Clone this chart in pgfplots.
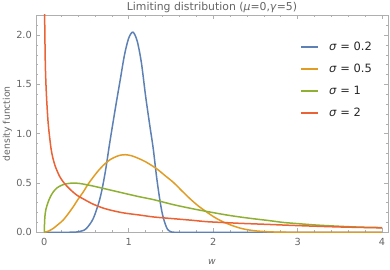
\documentclass[border=0pt]{standalone}
\usepackage{pgfplots}
\pgfplotsset{compat=1.18}
\usepackage{fontspec}
\setmainfont{DejaVu Sans}
\definecolor{mblue}{RGB}{94,129,181}
\definecolor{morange}{RGB}{225,156,36}
\definecolor{mgreen}{RGB}{143,176,50}
\definecolor{mred}{RGB}{235,98,53}
\definecolor{framegray}{RGB}{175,175,175}
\definecolor{labelgray}{RGB}{100,100,100}

\pgfplotstableread{
x y
0 0
0.2 0
0.3 0.0005
0.38 0.003
0.45 0.015
0.5 0.04
0.58 0.14
0.66 0.345
0.72 0.60
0.77 0.88
0.80 1.04
0.85 1.30
0.90 1.55
0.95 1.80
1.00 1.97
1.05 2.03
1.10 1.94
1.15 1.72
1.20 1.38
1.25 1.08
1.29 0.85
1.33 0.56
1.37 0.32
1.40 0.18
1.43 0.09
1.46 0.03
1.50 0.005
1.55 0
1.7 0
4 0
}\blue

\pgfplotstableread{
x y
0 0
0.05 0.012
0.107 0.04
0.165 0.08
0.225 0.125
0.285 0.19
0.344 0.26
0.40 0.335
0.462 0.41
0.52 0.49
0.58 0.56
0.64 0.625
0.70 0.68
0.76 0.725
0.818 0.755
0.89 0.78
0.96 0.787
1.03 0.777
1.1 0.755
1.2 0.715
1.33 0.645
1.43 0.575
1.53 0.505
1.63 0.42
1.726 0.34
1.82 0.27
1.924 0.205
2.02 0.15
2.12 0.105
2.22 0.07
2.32 0.042
2.42 0.024
2.52 0.013
2.65 0.005
2.8 0.0015
3.0 0
4.0 0
}\orange

\pgfplotstableread{
x y
0 0
0.003 0.09
0.008 0.165
0.02 0.235
0.047 0.31
0.075 0.365
0.107 0.41
0.15 0.45
0.2 0.475
0.25 0.49
0.3 0.497
0.36 0.499
0.42 0.495
0.5 0.483
0.6 0.465
0.7 0.445
0.8 0.425
0.9 0.405
1.0 0.385
1.13 0.36
1.3 0.33
1.53 0.28
1.75 0.24
1.92 0.212
2.15 0.177
2.32 0.155
2.5 0.135
2.65 0.12
2.83 0.10
3.0 0.088
3.23 0.073
3.45 0.063
3.62 0.056
3.8 0.051
4.0 0.048
}\green

\pgfplotstableread{
x y
0.002 2.5
0.005 2.15
0.012 1.72
0.02 1.50
0.03 1.32
0.045 1.12
0.06 0.99
0.08 0.85
0.1 0.76
0.13 0.67
0.18 0.57
0.23 0.505
0.3 0.44
0.384 0.378
0.48 0.33
0.58 0.285
0.7 0.245
0.818 0.218
0.95 0.195
1.13 0.175
1.3 0.155
1.53 0.138
1.75 0.122
1.92 0.108
2.15 0.098
2.32 0.091
2.65 0.08
3.0 0.068
3.5 0.054
4.0 0.045
}\red

\begin{document}
\begin{tikzpicture}
\useasboundingbox (0,0) rectangle (390bp,270bp);
\begin{axis}[
  at={(36bp,37.7bp)}, anchor=south west,
  scale only axis, width=352bp, height=217.3bp,
  xmin=-0.098, xmax=4.07, ymin=0, ymax=2.204,
  /pgf/number format/assume math mode=true,
  xtick={0,1,2,3,4},
  minor xtick={0.2,0.4,0.6,0.8,1.2,1.4,1.6,1.8,2.2,2.4,2.6,2.8,3.2,3.4,3.6,3.8},
  ytick={0,0.5,1,1.5,2},
  minor ytick={0.1,0.2,0.3,0.4,0.6,0.7,0.8,0.9,1.1,1.2,1.3,1.4,1.6,1.7,1.8,1.9,2.1,2.2},
  yticklabel style={/pgf/number format/fixed, /pgf/number format/fixed zerofill, /pgf/number format/precision=1},
  tick align=inside,
  major tick length=4bp, minor tick length=2.3bp,
  every tick/.style={framegray, line width=0.6bp},
  axis line style={framegray, line width=0.8bp},
  tick label style={font=\fontsize{9.8}{11}\selectfont, text=labelgray},
  xticklabel style={anchor=base, yshift=-12.7bp},
  yticklabel style={anchor=east, inner sep=0pt, xshift=-4bp},
  every axis title shift=0pt,
  title={Limiting distribution (\textit{μ}=0,\textit{γ}=5)},
  title style={at={(axis description cs:0.5,1.0207)}, anchor=base, font=\fontsize{10.9}{12}\selectfont, text=labelgray},
  xlabel={\textit{w}},
  xlabel style={at={(axis description cs:0.5,-0.147)}, anchor=base, font=\fontsize{9.3}{11}\selectfont, text=labelgray},
  ylabel={density function},
  ylabel style={at={(axis description cs:-0.0744,0.5)}, anchor=base, font=\fontsize{9.3}{11}\selectfont, text=labelgray},
  legend style={at={(axis description cs:0.752,0.884)}, anchor=north west, draw=none, fill=none, inner sep=0pt, outer sep=0pt,
    font=\fontsize{11.5}{13}\selectfont, row sep=8bp,
    nodes={inner sep=1bp, text height=9bp, text depth=3bp, text=black!85},
    /tikz/every odd column/.append style={column sep=9bp}},
  legend cell align=left,
  every axis plot/.append style={line width=1.5bp, no marks},
]
\addplot[mblue, smooth, legend image code/.code={\draw[mblue, line width=1.5bp] (0bp,0bp) -- (17bp,0bp);}] table {\blue};
\addlegendentry{\textit{σ} = 0.2}
\addplot[morange, smooth, legend image code/.code={\draw[morange, line width=1.5bp] (0bp,0bp) -- (17bp,0bp);}] table {\orange};
\addlegendentry{\textit{σ} = 0.5}
\addplot[mgreen, smooth, legend image code/.code={\draw[mgreen, line width=1.5bp] (0bp,0bp) -- (17bp,0bp);}] table {\green};
\addlegendentry{\textit{σ} = 1}
\addplot[mred, smooth, legend image code/.code={\draw[mred, line width=1.5bp] (0bp,0bp) -- (17bp,0bp);}] table {\red};
\addlegendentry{\textit{σ} = 2}
\end{axis}
\end{tikzpicture}
\end{document}
